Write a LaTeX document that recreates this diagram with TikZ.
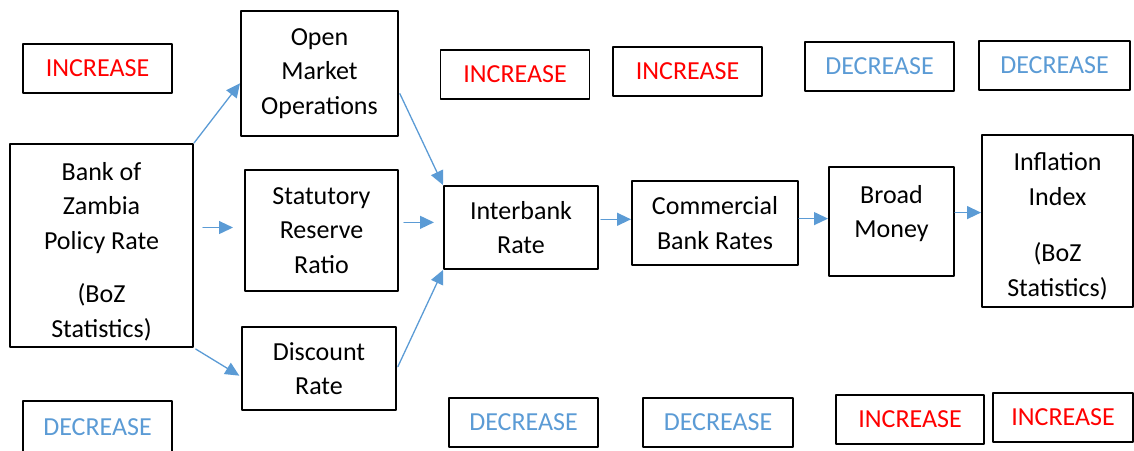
\documentclass[tikz,border=0pt]{standalone}
\usepackage{fontspec}
\setmainfont{Carlito}
\usetikzlibrary{arrows.meta}
\definecolor{incred}{HTML}{FF0000}
\definecolor{decblue}{HTML}{5B9BD5}
\begin{document}
\begin{tikzpicture}[x=1pt, y=-1pt, font=\fontsize{26}{34.5}\selectfont, line join=round, line cap=round, >={Triangle[length=14pt,width=13pt]},
	blk/.style={draw, line width=2pt, align=center, inner sep=0pt},
	lbl/.style={draw, line width=1.8pt, inner sep=0pt, minimum width=149pt, minimum height=49pt},
	inc/.style={lbl, text=incred},
	dec/.style={lbl, text=decblue},
	flow/.style={->, draw=decblue, line width=1.3pt}]
	\useasboundingbox (0,0) rectangle (1134,450);
	% main chain
	\node[blk, minimum width=183pt, minimum height=203pt, text height=187.5pt] (bank) at (101.5,245.5) {Bank of\\Zambia\\Policy Rate\\[19pt](BoZ\\Statistics)};
	\node[blk, minimum width=157pt, minimum height=125pt] (omo) at (319.5,73.5) {Open\\Market\\Operations};
	\node[blk, minimum width=153pt, minimum height=121pt] (srr) at (321.5,230.5) {Statutory\\Reserve\\Ratio};
	\node[blk, minimum width=154pt, minimum height=83pt] (disc) at (319,368.5) {Discount\\Rate};
	\node[blk, minimum width=154pt, minimum height=83pt] (inter) at (521,227.5) {Interbank\\Rate};
	\node[blk, minimum width=166pt, minimum height=84pt] (comm) at (715,223) {Commercial\\Bank Rates};
	\node[blk, minimum width=125pt, minimum height=109pt] (broad) at (891.5,221.5) {Broad\\Money\\[-14pt]\mbox{}};
	\node[blk, minimum width=151pt, minimum height=172pt, text height=154pt] (infl) at (1057.5,221) {Inflation\\Index\\[22pt](BoZ\\Statistics)};
	% top row
	\node[inc] (i1) at (97.5,68.5) {INCREASE};
	\node[inc] (i2) at (515,74.5) {INCREASE};
	\node[inc] (i3) at (687.5,71.5) {INCREASE};
	\node[dec] (d1) at (879.5,66.5) {DECREASE};
	\node[dec, minimum width=151pt] (d2) at (1054.5,65.5) {DECREASE};
	% bottom row
	\node[dec, minimum height=52pt] (d3) at (97.5,427) {DECREASE};
	\node[dec] (d4) at (523.5,422.5) {DECREASE};
	\node[dec, minimum width=150pt] (d5) at (718,422.5) {DECREASE};
	\node[inc, minimum width=148pt] (i4) at (910,419.5) {INCREASE};
	\node[inc, minimum width=140pt] (i5) at (1063,417.5) {INCREASE};
	% arrows
	\draw[flow] (bank.north east) -- (omo.187);
	\draw[flow, shorten <=9pt, shorten >=11pt] (bank.11) -- (bank.11 -| srr.west);
	\draw[flow, shorten <=2pt, shorten >=2pt] (bank.south east) -- (disc.186);
	\draw[flow, shorten <=2pt] (omo.347) -- (inter.north west);
	\draw[flow, shorten <=5pt, shorten >=9pt] (srr.6) -- (srr.6 -| inter.west);
	\draw[flow, shorten <=2pt] (disc.east) -- (inter.south west);
	\draw[flow, shorten <=2pt] (inter.6) -- (inter.6 -| comm.west);
	\draw[flow] (comm.3) -- (comm.3 -| broad.west);
	\draw[flow] (broad.8) -- (broad.8 -| infl.west);
\end{tikzpicture}
\end{document}
